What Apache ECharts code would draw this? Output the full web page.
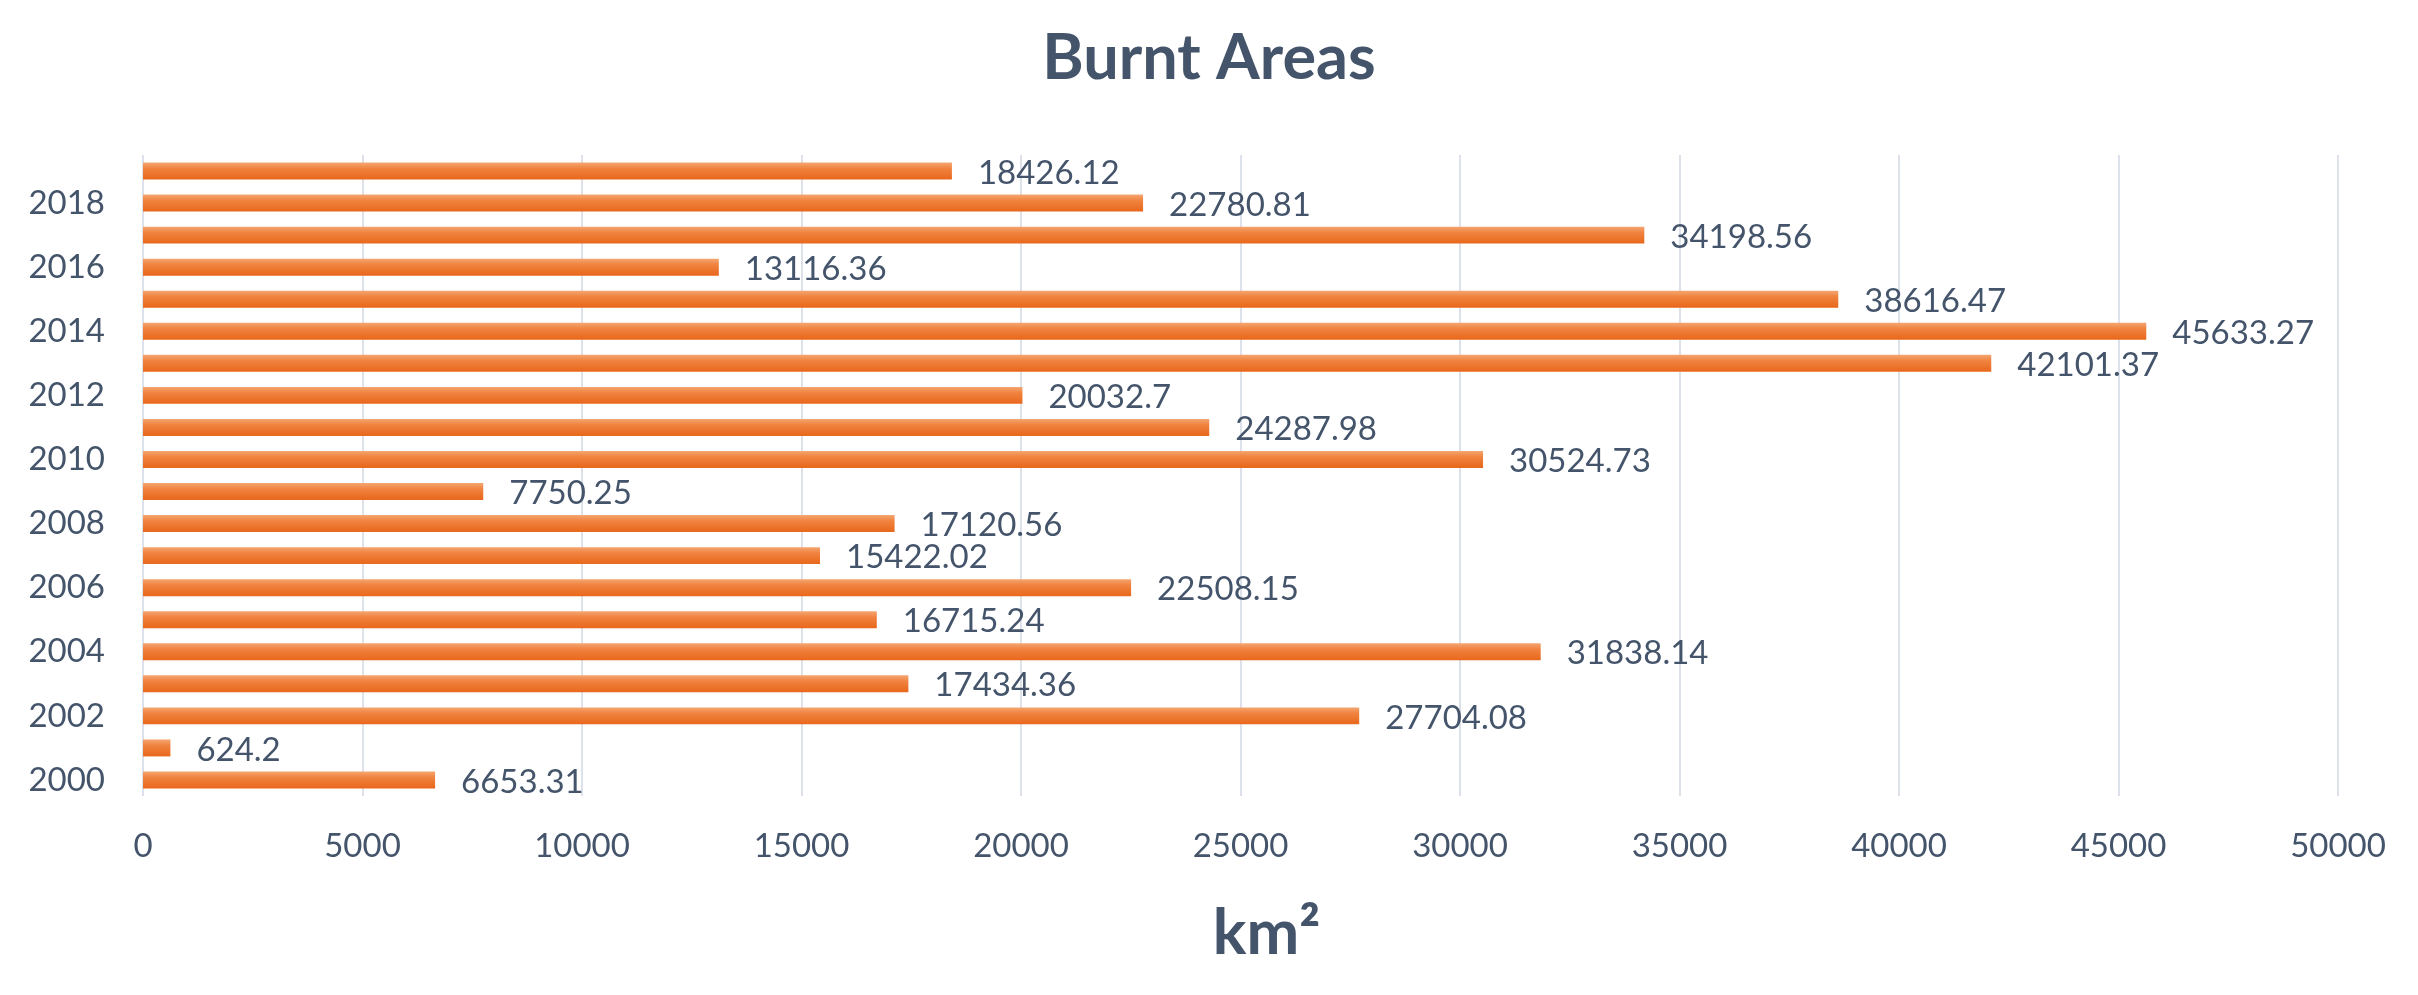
<!DOCTYPE html>
<html>
<head>
<meta charset="utf-8">
<script src="https://cdn.jsdelivr.net/npm/echarts@6/dist/echarts.min.js"></script>
<style>
  html, body { margin: 0; padding: 0; background: #fff; }
  #burnt { width: 2418px; height: 995px; }
</style>
</head>
<body>
<div id="burnt"></div>
<script>
var mychart = echarts.init(document.getElementById("burnt"));

// years on the category axis (bottom to top)
const years = [
    '2000', '2001', '2002', '2003', '2004', '2005', '2006', '2007', '2008', '2009',
    '2010', '2011', '2012', '2013', '2014', '2015', '2016', '2017', '2018', '2019'
];
// burnt area per year, km2
const areas = [
    6653.31, 624.2, 27704.08, 17434.36, 31838.14, 16715.24, 22508.15, 15422.02, 17120.56, 7750.25,
    30524.73, 24287.98, 20032.7, 42101.37, 45633.27, 38616.47, 13116.36, 34198.56, 22780.81, 18426.12
];
const xTicks = { min: 0, max: 50000, step: 5000 };

const ink = '#44546A';
const font = 'Lato';

option = {
    backgroundColor: '#ffffff',
    animation: false,
    title: {
        text: 'Burnt Areas',
        left: 'center',
        top: 22,
        padding: [5, 5, 5, 25],
        textStyle: {
            fontFamily: font,
            fontSize: 63,
            fontWeight: 'bold',
            color: ink
        }
    },
    grid: {
        left: 143,
        right: 80,
        top: 155,
        bottom: 199,
        containLabel: false
    },
    xAxis: {
        type: 'value',
        min: xTicks.min,
        max: xTicks.max,
        interval: xTicks.step,
        name: 'km\u00b2',
        nameLocation: 'middle',
        nameGap: 106,
        nameTextStyle: {
            fontFamily: font,
            fontSize: 63,
            fontWeight: 'bold',
            color: ink,
            padding: [0, 0, 0, 52]
        },
        axisLine: { show: false },
        axisTick: { show: false },
        axisLabel: {
            margin: 34,
            fontFamily: font,
            fontSize: 33,
            color: ink,
            formatter: function (v) {
                return String(v);
            }
        },
        splitLine: {
            show: true,
            lineStyle: { color: '#DCE1EA', width: 2 }
        }
    },
    yAxis: {
        type: 'category',
        data: years,
        axisLine: { show: false },
        axisTick: { show: false },
        axisLabel: {
            interval: 1,
            margin: 38,
            fontFamily: font,
            fontSize: 33,
            color: ink
        }
    },
    series: [
        {
            name: 'Burnt area',
            type: 'bar',
            data: areas,
            barWidth: '53%',
            itemStyle: {
                color: new echarts.graphic.LinearGradient(0, 0, 0, 1, [
                    { offset: 0, color: '#F4A672' },
                    { offset: 0.35, color: '#F0833F' },
                    { offset: 1, color: '#E8671B' }
                ])
            },
            label: {
                show: true,
                position: 'right',
                distance: 26,
                offset: [0, 2],
                fontFamily: font,
                fontSize: 33,
                color: ink
            }
        }
    ]
};
mychart.setOption(option, true);
</script>
</body>
</html>
